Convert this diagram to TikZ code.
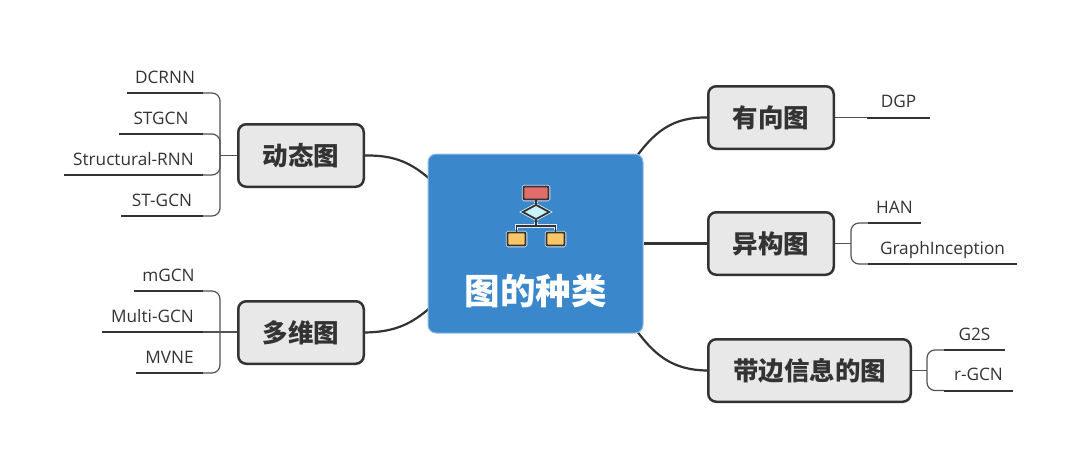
\documentclass[tikz,border=0pt]{standalone}
\usepackage{fontspec}
\setmainfont{Open Sans}
\newfontfamily\cjk{Noto Sans CJK SC}
\usepackage{tikz}
\usepackage{xcolor}
\usetikzlibrary{shapes.geometric,backgrounds}
\definecolor{inkline}{HTML}{333333}
\definecolor{rootblue}{HTML}{3A87CB}
\definecolor{boxgray}{HTML}{E8E8E8}
\definecolor{iconred}{HTML}{E06C6C}
\definecolor{iconcyan}{HTML}{C8F3FA}
\definecolor{iconorange}{HTML}{FAC667}
\tikzset{
    rootbox/.style={draw=rootblue!55!white,line width=1pt,fill=rootblue,rounded corners=8pt,minimum width=215pt,minimum height=179pt,inner sep=0pt},
    rootlabel/.style={text=white,font=\cjk\bfseries\fontsize{35.5}{40}\selectfont,inner sep=0pt},
    branchbox/.style={draw=inkline,line width=2.5pt,fill=boxgray,rounded corners=8pt,minimum height=62.5pt,minimum width=125.5pt,inner sep=0pt,text=inkline,font=\cjk\bfseries\fontsize{25.5}{30}\selectfont},
    leaf/.style={anchor=south west,inner sep=0pt,outer sep=0pt,text depth=10pt,text=inkline,font=\fontsize{17.2}{20}\selectfont},
    trunk/.style={draw=inkline,line width=2.2pt},
    leafline/.style={draw=inkline,line width=2pt},
    twig/.style={draw=inkline!85!white,line width=1.2pt,rounded corners=8pt},
    iconbox/.style={draw=inkline,line width=1.8pt,inner sep=0pt,rounded corners=1pt,preaction={draw=white!80!rootblue,line width=3.5pt}},
    iconwire/.style={draw=inkline,line width=1.8pt,preaction={draw=white!80!rootblue,line width=3.5pt,shorten >=2pt,shorten <=2pt}},
}

\begin{document}
\begin{tikzpicture}[x=1pt,y=-1pt]
    \useasboundingbox (0,0) rectangle (1080,466);
    % centre
    \node [rootbox] (root) at (535.5,243.5) {};
    \node [rootlabel] (rootname) at (535.5,291) {图的种类};
    % icon
    \node [iconbox,fill=iconred,minimum width=25pt,minimum height=13pt] (icontop) at (536,193) {};
    \node [iconbox,fill=iconcyan,diamond,minimum width=27pt,minimum height=15pt,aspect=1.8,rounded corners=0pt] (icondec) at (536,212) {};
    \node [iconbox,fill=iconorange,minimum width=18pt,minimum height=13pt] (iconleft) at (516.5,239) {};
    \node [iconbox,fill=iconorange,minimum width=18pt,minimum height=13pt] (iconright) at (555.5,239) {};
    \coordinate (iconfork) at (536,226);
    \draw [iconwire] (iconleft.north) |- (iconfork) -| (iconright.north);
    \draw [iconwire] (icontop.south) -- (icondec.north);
    \draw [iconwire] (icondec.south) -- (iconfork);
    % branches
    \node [branchbox] (dynamic) at (301,155.5) {动态图};
    \node [branchbox] (multi) at (301,332.5) {多维图};
    \node [branchbox] (directed) at (771,117.5) {有向图};
    \node [branchbox] (hetero) at (771,243.5) {异构图};
    \node [branchbox,minimum width=202.5pt] (sideinfo) at (809.5,370.5) {带边信息的图};
    \begin{scope}[on background layer]
        \draw [trunk] (dynamic.east) .. controls (395,155) and (412,163) .. (432,181);
        \draw [trunk] (multi.east) .. controls (395,332) and (412,324) .. (432,306);
        \draw [trunk] (directed.west) .. controls (672,117) and (654,132) .. (634,160);
        \draw [trunk] (hetero.west) -- (root.east);
        \draw [trunk] (sideinfo.west) .. controls (672,370) and (654,355) .. (634,327);
    \end{scope}
    % leaves on the left
    \node [leaf,minimum width=76pt] (dcrnn) at (127,93) {DCRNN};
    \node [leaf,minimum width=84pt] (stgcn) at (119,134) {STGCN};
    \node [leaf,minimum width=139pt] (srnn) at (64,175) {Structural-RNN};
    \node [leaf,minimum width=82pt] (stgcnb) at (121,216) {ST-GCN};
    \coordinate (dynamicjoin) at (220,155.5);
    \draw [leafline] (dcrnn.south west) -- (dcrnn.south east);
    \draw [leafline] (stgcn.south west) -- (stgcn.south east);
    \draw [leafline] (srnn.south west) -- (srnn.south east);
    \draw [leafline] (stgcnb.south west) -- (stgcnb.south east);
    \draw [twig] (dcrnn.south east) -| (dynamicjoin);
    \draw [twig] (stgcn.south east) -| (dynamicjoin);
    \draw [twig] (srnn.south east) -| (dynamicjoin);
    \draw [twig] (stgcnb.south east) -| (dynamicjoin);
    \draw [twig] (dynamicjoin) -- (dynamic.west);
    \node [leaf,minimum width=69pt] (mgcn) at (134,291) {mGCN};
    \node [leaf,minimum width=101pt] (multigcn) at (102,332) {Multi-GCN};
    \node [leaf,minimum width=67pt] (mvne) at (136,373) {MVNE};
    \coordinate (multijoin) at (220,332);
    \draw [leafline] (mgcn.south west) -- (mgcn.south east);
    \draw [leafline] (multigcn.south west) -- (multigcn.south east);
    \draw [leafline] (mvne.south west) -- (mvne.south east);
    \draw [twig] (mgcn.south east) -| (multijoin);
    \draw [twig] (mvne.south east) -| (multijoin);
    \draw [twig] (multigcn.south east) -- (multi.west |- multijoin);
    % leaves on the right
    \node [leaf,minimum width=63pt] (dgp) at (867,117.5) {DGP};
    \draw [leafline] (dgp.south west) -- (dgp.south east);
    \draw [twig] (directed.east) -- (dgp.south west);
    \node [leaf,minimum width=53pt] (han) at (868,223) {HAN};
    \node [leaf,minimum width=149pt] (inception) at (868,264) {GraphInception};
    \coordinate (heterojoin) at (851,243.5);
    \draw [leafline] (han.south west) -- (han.south east);
    \draw [leafline] (inception.south west) -- (inception.south east);
    \draw [twig] (han.south west) -| (heterojoin);
    \draw [twig] (inception.south west) -| (heterojoin);
    \draw [twig] (heterojoin) -- (hetero.east);
    \node [leaf,minimum width=61pt] (gts) at (944,350) {G2S};
    \node [leaf,minimum width=69pt] (rgcn) at (944,390.5) {r-GCN};
    \coordinate (sidejoin) at (927,370.5);
    \draw [leafline] (gts.south west) -- (gts.south east);
    \draw [leafline] (rgcn.south west) -- (rgcn.south east);
    \draw [twig] (gts.south west) -| (sidejoin);
    \draw [twig] (rgcn.south west) -| (sidejoin);
    \draw [twig] (sidejoin) -- (sideinfo.east);
\end{tikzpicture}
\end{document}
